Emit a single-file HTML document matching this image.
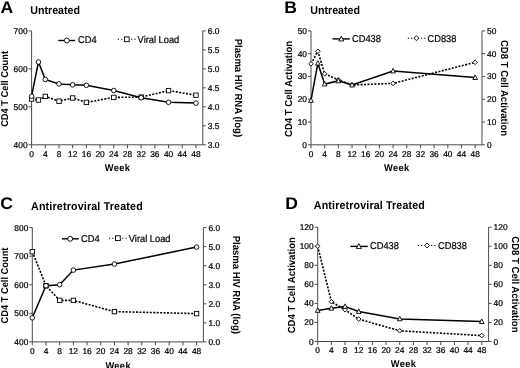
<!DOCTYPE html>
<html><head><meta charset="utf-8"><style>
html,body{margin:0;padding:0;background:#fff;}
svg{display:block;font-family:"Liberation Sans", sans-serif;filter:blur(0.35px);}
</style></head><body>
<svg width="520" height="368" viewBox="0 0 520 368" text-rendering="geometricPrecision">
<rect width="520" height="368" fill="#fff"/>
<path d="M31.6 30.9V144.8H202.8V30.9" fill="none" stroke="#4a4a4a" stroke-width="1"/>
<text transform="translate(31.6 156.8)" font-size="8.4" stroke="#000" stroke-width="0.22" text-anchor="middle" fill="#000">0</text>
<text transform="translate(45.3 156.8)" font-size="8.4" stroke="#000" stroke-width="0.22" text-anchor="middle" fill="#000">4</text>
<text transform="translate(58.99 156.8)" font-size="8.4" stroke="#000" stroke-width="0.22" text-anchor="middle" fill="#000">8</text>
<text transform="translate(72.69 156.8)" font-size="8.4" stroke="#000" stroke-width="0.22" text-anchor="middle" fill="#000">12</text>
<text transform="translate(86.38 156.8)" font-size="8.4" stroke="#000" stroke-width="0.22" text-anchor="middle" fill="#000">16</text>
<text transform="translate(100.08 156.8)" font-size="8.4" stroke="#000" stroke-width="0.22" text-anchor="middle" fill="#000">20</text>
<text transform="translate(113.78 156.8)" font-size="8.4" stroke="#000" stroke-width="0.22" text-anchor="middle" fill="#000">24</text>
<text transform="translate(127.47 156.8)" font-size="8.4" stroke="#000" stroke-width="0.22" text-anchor="middle" fill="#000">28</text>
<text transform="translate(141.17 156.8)" font-size="8.4" stroke="#000" stroke-width="0.22" text-anchor="middle" fill="#000">32</text>
<text transform="translate(154.86 156.8)" font-size="8.4" stroke="#000" stroke-width="0.22" text-anchor="middle" fill="#000">36</text>
<text transform="translate(168.56 156.8)" font-size="8.4" stroke="#000" stroke-width="0.22" text-anchor="middle" fill="#000">40</text>
<text transform="translate(182.26 156.8)" font-size="8.4" stroke="#000" stroke-width="0.22" text-anchor="middle" fill="#000">44</text>
<text transform="translate(195.95 156.8)" font-size="8.4" stroke="#000" stroke-width="0.22" text-anchor="middle" fill="#000">48</text>
<text transform="translate(27.6 147.8)" font-size="8.4" stroke="#000" stroke-width="0.22" text-anchor="end" fill="#000">400</text>
<text transform="translate(27.6 109.83)" font-size="8.4" stroke="#000" stroke-width="0.22" text-anchor="end" fill="#000">500</text>
<text transform="translate(27.6 71.87)" font-size="8.4" stroke="#000" stroke-width="0.22" text-anchor="end" fill="#000">600</text>
<text transform="translate(27.6 33.9)" font-size="8.4" stroke="#000" stroke-width="0.22" text-anchor="end" fill="#000">700</text>
<text transform="translate(207.8 147.8)" font-size="8.4" stroke="#000" stroke-width="0.22" fill="#000">3.0</text>
<text transform="translate(207.8 128.82)" font-size="8.4" stroke="#000" stroke-width="0.22" fill="#000">3.5</text>
<text transform="translate(207.8 109.83)" font-size="8.4" stroke="#000" stroke-width="0.22" fill="#000">4.0</text>
<text transform="translate(207.8 90.85)" font-size="8.4" stroke="#000" stroke-width="0.22" fill="#000">4.5</text>
<text transform="translate(207.8 71.87)" font-size="8.4" stroke="#000" stroke-width="0.22" fill="#000">5.0</text>
<text transform="translate(207.8 52.88)" font-size="8.4" stroke="#000" stroke-width="0.22" fill="#000">5.5</text>
<text transform="translate(207.8 33.9)" font-size="8.4" stroke="#000" stroke-width="0.22" fill="#000">6.0</text>
<path d="M31.6 144.8v3.5M45.3 144.8v3.5M58.99 144.8v3.5M72.69 144.8v3.5M86.38 144.8v3.5M100.08 144.8v3.5M113.78 144.8v3.5M127.47 144.8v3.5M141.17 144.8v3.5M154.86 144.8v3.5M168.56 144.8v3.5M182.26 144.8v3.5M195.95 144.8v3.5M28.6 144.8h3M28.6 106.83h3M28.6 68.87h3M28.6 30.9h3M202.8 144.8h3M202.8 125.82h3M202.8 106.83h3M202.8 87.85h3M202.8 68.87h3M202.8 49.88h3M202.8 30.9h3" stroke="#4a4a4a" stroke-width="1" fill="none"/>
<text transform="translate(8.2 88.9) rotate(-90) scale(1 1.07)" font-size="9.3" text-anchor="middle" font-weight="bold">CD4 T Cell Count</text>
<text transform="translate(234.6 87.9) rotate(90) scale(1 1.07)" font-size="9.55" text-anchor="middle" font-weight="bold">Plasma HIV RNA (log)</text>
<text transform="translate(117.5 170.75) scale(1 1.07)" font-size="9.3" letter-spacing="0.35" text-anchor="middle" font-weight="bold">Week</text>
<text transform="translate(0.5 13.3) scale(1 0.96)" font-size="17.6" font-weight="bold">A</text>
<text transform="translate(30.2 13.8) scale(1 1.07)" font-size="10.7" font-weight="bold">Untreated</text>
<path d="M31.6 99 L38.45 100 L45.3 96.4 L58.99 101.2 L72.69 98 L86.38 102.4 L113.78 97.4 L141.17 97.1 L168.56 90.6 L195.95 95.2" fill="none" stroke="#000" stroke-width="1.6" stroke-dasharray="2 1.45"/>
<path d="M31.6 96.2 L38.45 62 L45.3 79.5 L58.99 83.9 L72.69 84.8 L86.38 85.3 L113.78 90.5 L141.17 97.7 L168.56 102.3 L195.95 103.1" fill="none" stroke="#000" stroke-width="1.5"/>
<rect x="29.4" y="96.8" width="4.4" height="4.4" fill="#fff" stroke="#000" stroke-width="0.9"/>
<rect x="36.25" y="97.8" width="4.4" height="4.4" fill="#fff" stroke="#000" stroke-width="0.9"/>
<rect x="43.1" y="94.2" width="4.4" height="4.4" fill="#fff" stroke="#000" stroke-width="0.9"/>
<rect x="56.79" y="99" width="4.4" height="4.4" fill="#fff" stroke="#000" stroke-width="0.9"/>
<rect x="70.49" y="95.8" width="4.4" height="4.4" fill="#fff" stroke="#000" stroke-width="0.9"/>
<rect x="84.18" y="100.2" width="4.4" height="4.4" fill="#fff" stroke="#000" stroke-width="0.9"/>
<rect x="111.58" y="95.2" width="4.4" height="4.4" fill="#fff" stroke="#000" stroke-width="0.9"/>
<rect x="138.97" y="94.9" width="4.4" height="4.4" fill="#fff" stroke="#000" stroke-width="0.9"/>
<rect x="166.36" y="88.4" width="4.4" height="4.4" fill="#fff" stroke="#000" stroke-width="0.9"/>
<rect x="193.75" y="93" width="4.4" height="4.4" fill="#fff" stroke="#000" stroke-width="0.9"/>
<circle cx="31.6" cy="96.2" r="2.3" fill="#fff" stroke="#000" stroke-width="0.9"/>
<circle cx="38.45" cy="62" r="2.3" fill="#fff" stroke="#000" stroke-width="0.9"/>
<circle cx="45.3" cy="79.5" r="2.3" fill="#fff" stroke="#000" stroke-width="0.9"/>
<circle cx="58.99" cy="83.9" r="2.3" fill="#fff" stroke="#000" stroke-width="0.9"/>
<circle cx="72.69" cy="84.8" r="2.3" fill="#fff" stroke="#000" stroke-width="0.9"/>
<circle cx="86.38" cy="85.3" r="2.3" fill="#fff" stroke="#000" stroke-width="0.9"/>
<circle cx="113.78" cy="90.5" r="2.3" fill="#fff" stroke="#000" stroke-width="0.9"/>
<circle cx="141.17" cy="97.7" r="2.3" fill="#fff" stroke="#000" stroke-width="0.9"/>
<circle cx="168.56" cy="102.3" r="2.3" fill="#fff" stroke="#000" stroke-width="0.9"/>
<circle cx="195.95" cy="103.1" r="2.3" fill="#fff" stroke="#000" stroke-width="0.9"/>
<line x1="58.3" y1="40.5" x2="75.2" y2="40.5" stroke="#000" stroke-width="1.4"/>
<circle cx="66.8" cy="40.5" r="2.48" fill="#fff" stroke="#000" stroke-width="0.9"/>
<text transform="translate(78 43.3) scale(1 1.07)" font-size="9.3" stroke="#000" stroke-width="0.2" fill="#000">CD4</text>
<line x1="117.8" y1="39.3" x2="136" y2="39.3" stroke="#000" stroke-width="1.1" stroke-dasharray="1.2 2.1"/>
<rect x="124.42" y="36.92" width="4.75" height="4.75" fill="#fff" stroke="#000" stroke-width="0.9"/>
<text transform="translate(137.6 42.7) scale(1 1.07)" font-size="9.3" stroke="#000" stroke-width="0.2" fill="#000">Viral Load</text>
<path d="M311 30.9V144.8H482V30.9" fill="none" stroke="#4a4a4a" stroke-width="1"/>
<text transform="translate(311 156.8)" font-size="8.4" stroke="#000" stroke-width="0.22" text-anchor="middle" fill="#000">0</text>
<text transform="translate(324.68 156.8)" font-size="8.4" stroke="#000" stroke-width="0.22" text-anchor="middle" fill="#000">4</text>
<text transform="translate(338.36 156.8)" font-size="8.4" stroke="#000" stroke-width="0.22" text-anchor="middle" fill="#000">8</text>
<text transform="translate(352.04 156.8)" font-size="8.4" stroke="#000" stroke-width="0.22" text-anchor="middle" fill="#000">12</text>
<text transform="translate(365.72 156.8)" font-size="8.4" stroke="#000" stroke-width="0.22" text-anchor="middle" fill="#000">16</text>
<text transform="translate(379.4 156.8)" font-size="8.4" stroke="#000" stroke-width="0.22" text-anchor="middle" fill="#000">20</text>
<text transform="translate(393.08 156.8)" font-size="8.4" stroke="#000" stroke-width="0.22" text-anchor="middle" fill="#000">24</text>
<text transform="translate(406.76 156.8)" font-size="8.4" stroke="#000" stroke-width="0.22" text-anchor="middle" fill="#000">28</text>
<text transform="translate(420.44 156.8)" font-size="8.4" stroke="#000" stroke-width="0.22" text-anchor="middle" fill="#000">32</text>
<text transform="translate(434.12 156.8)" font-size="8.4" stroke="#000" stroke-width="0.22" text-anchor="middle" fill="#000">36</text>
<text transform="translate(447.8 156.8)" font-size="8.4" stroke="#000" stroke-width="0.22" text-anchor="middle" fill="#000">40</text>
<text transform="translate(461.48 156.8)" font-size="8.4" stroke="#000" stroke-width="0.22" text-anchor="middle" fill="#000">44</text>
<text transform="translate(475.16 156.8)" font-size="8.4" stroke="#000" stroke-width="0.22" text-anchor="middle" fill="#000">48</text>
<text transform="translate(307 147.8)" font-size="8.4" stroke="#000" stroke-width="0.22" text-anchor="end" fill="#000">0</text>
<text transform="translate(307 125.02)" font-size="8.4" stroke="#000" stroke-width="0.22" text-anchor="end" fill="#000">10</text>
<text transform="translate(307 102.24)" font-size="8.4" stroke="#000" stroke-width="0.22" text-anchor="end" fill="#000">20</text>
<text transform="translate(307 79.46)" font-size="8.4" stroke="#000" stroke-width="0.22" text-anchor="end" fill="#000">30</text>
<text transform="translate(307 56.68)" font-size="8.4" stroke="#000" stroke-width="0.22" text-anchor="end" fill="#000">40</text>
<text transform="translate(307 33.9)" font-size="8.4" stroke="#000" stroke-width="0.22" text-anchor="end" fill="#000">50</text>
<text transform="translate(487 147.8)" font-size="8.4" stroke="#000" stroke-width="0.22" fill="#000">0</text>
<text transform="translate(487 125.02)" font-size="8.4" stroke="#000" stroke-width="0.22" fill="#000">10</text>
<text transform="translate(487 102.24)" font-size="8.4" stroke="#000" stroke-width="0.22" fill="#000">20</text>
<text transform="translate(487 79.46)" font-size="8.4" stroke="#000" stroke-width="0.22" fill="#000">30</text>
<text transform="translate(487 56.68)" font-size="8.4" stroke="#000" stroke-width="0.22" fill="#000">40</text>
<text transform="translate(487 33.9)" font-size="8.4" stroke="#000" stroke-width="0.22" fill="#000">50</text>
<path d="M311 144.8v3.5M324.68 144.8v3.5M338.36 144.8v3.5M352.04 144.8v3.5M365.72 144.8v3.5M379.4 144.8v3.5M393.08 144.8v3.5M406.76 144.8v3.5M420.44 144.8v3.5M434.12 144.8v3.5M447.8 144.8v3.5M461.48 144.8v3.5M475.16 144.8v3.5M308 144.8h3M308 122.02h3M308 99.24h3M308 76.46h3M308 53.68h3M308 30.9h3M482 144.8h3M482 122.02h3M482 99.24h3M482 76.46h3M482 53.68h3M482 30.9h3" stroke="#4a4a4a" stroke-width="1" fill="none"/>
<text transform="translate(291.6 88.9) rotate(-90) scale(1 1.07)" font-size="9.55" text-anchor="middle" font-weight="bold">CD4 T Cell Activation</text>
<text transform="translate(500.8 88) rotate(90) scale(1 1.07)" font-size="9.55" text-anchor="middle" font-weight="bold">CD8 T Cell Activation</text>
<text transform="translate(396.8 170.75) scale(1 1.07)" font-size="9.3" letter-spacing="0.35" text-anchor="middle" font-weight="bold">Week</text>
<text transform="translate(284.2 13.3) scale(1 0.96)" font-size="17.6" font-weight="bold">B</text>
<text transform="translate(310.2 13.8) scale(1 1.07)" font-size="10.7" font-weight="bold">Untreated</text>
<path d="M311 63.8 L317.84 51.3 L324.68 73.8 L338.36 79.9 L352.04 85 L393.08 83.4 L475.16 62.3" fill="none" stroke="#000" stroke-width="1.6" stroke-dasharray="2 1.45"/>
<path d="M311 100.4 L317.84 63.2 L324.68 84.1 L338.36 80.9 L352.04 85 L393.08 71 L475.16 77.6" fill="none" stroke="#000" stroke-width="1.5"/>
<path d="M311 61.5L313.3 63.8L311 66.1L308.7 63.8Z" fill="#fff" stroke="#000" stroke-width="0.9"/>
<path d="M317.84 49L320.14 51.3L317.84 53.6L315.54 51.3Z" fill="#fff" stroke="#000" stroke-width="0.9"/>
<path d="M324.68 71.5L326.98 73.8L324.68 76.1L322.38 73.8Z" fill="#fff" stroke="#000" stroke-width="0.9"/>
<path d="M338.36 77.6L340.66 79.9L338.36 82.2L336.06 79.9Z" fill="#fff" stroke="#000" stroke-width="0.9"/>
<path d="M352.04 82.7L354.34 85L352.04 87.3L349.74 85Z" fill="#fff" stroke="#000" stroke-width="0.9"/>
<path d="M393.08 81.1L395.38 83.4L393.08 85.7L390.78 83.4Z" fill="#fff" stroke="#000" stroke-width="0.9"/>
<path d="M475.16 60L477.46 62.3L475.16 64.6L472.86 62.3Z" fill="#fff" stroke="#000" stroke-width="0.9"/>
<path d="M311 97.8L313.35 102.3L308.65 102.3Z" fill="#fff" stroke="#000" stroke-width="0.9"/>
<path d="M317.84 60.6L320.19 65.1L315.49 65.1Z" fill="#fff" stroke="#000" stroke-width="0.9"/>
<path d="M324.68 81.5L327.03 86L322.33 86Z" fill="#fff" stroke="#000" stroke-width="0.9"/>
<path d="M338.36 78.3L340.71 82.8L336.01 82.8Z" fill="#fff" stroke="#000" stroke-width="0.9"/>
<path d="M352.04 82.4L354.39 86.9L349.69 86.9Z" fill="#fff" stroke="#000" stroke-width="0.9"/>
<path d="M393.08 68.4L395.43 72.9L390.73 72.9Z" fill="#fff" stroke="#000" stroke-width="0.9"/>
<path d="M475.16 75L477.51 79.5L472.81 79.5Z" fill="#fff" stroke="#000" stroke-width="0.9"/>
<line x1="332.5" y1="38.9" x2="349.8" y2="38.9" stroke="#000" stroke-width="1.4"/>
<path d="M341.3 36.09L343.84 40.95L338.76 40.95Z" fill="#fff" stroke="#000" stroke-width="0.9"/>
<text transform="translate(352 42.2) scale(1 1.07)" font-size="9.3" stroke="#000" stroke-width="0.2" fill="#000">CD438</text>
<line x1="407.8" y1="38.2" x2="426" y2="38.2" stroke="#000" stroke-width="1.1" stroke-dasharray="1.2 2.1"/>
<path d="M416.4 35.72L418.88 38.2L416.4 40.68L413.92 38.2Z" fill="#fff" stroke="#000" stroke-width="0.9"/>
<text transform="translate(427.5 42.2) scale(1 1.07)" font-size="9.3" stroke="#000" stroke-width="0.2" fill="#000">CD838</text>
<path d="M32.3 227.6V341.9H203.4V227.6" fill="none" stroke="#4a4a4a" stroke-width="1"/>
<text transform="translate(32.3 354.3)" font-size="8.4" stroke="#000" stroke-width="0.22" text-anchor="middle" fill="#000">0</text>
<text transform="translate(45.99 354.3)" font-size="8.4" stroke="#000" stroke-width="0.22" text-anchor="middle" fill="#000">4</text>
<text transform="translate(59.68 354.3)" font-size="8.4" stroke="#000" stroke-width="0.22" text-anchor="middle" fill="#000">8</text>
<text transform="translate(73.36 354.3)" font-size="8.4" stroke="#000" stroke-width="0.22" text-anchor="middle" fill="#000">12</text>
<text transform="translate(87.05 354.3)" font-size="8.4" stroke="#000" stroke-width="0.22" text-anchor="middle" fill="#000">16</text>
<text transform="translate(100.74 354.3)" font-size="8.4" stroke="#000" stroke-width="0.22" text-anchor="middle" fill="#000">20</text>
<text transform="translate(114.43 354.3)" font-size="8.4" stroke="#000" stroke-width="0.22" text-anchor="middle" fill="#000">24</text>
<text transform="translate(128.12 354.3)" font-size="8.4" stroke="#000" stroke-width="0.22" text-anchor="middle" fill="#000">28</text>
<text transform="translate(141.8 354.3)" font-size="8.4" stroke="#000" stroke-width="0.22" text-anchor="middle" fill="#000">32</text>
<text transform="translate(155.49 354.3)" font-size="8.4" stroke="#000" stroke-width="0.22" text-anchor="middle" fill="#000">36</text>
<text transform="translate(169.18 354.3)" font-size="8.4" stroke="#000" stroke-width="0.22" text-anchor="middle" fill="#000">40</text>
<text transform="translate(182.87 354.3)" font-size="8.4" stroke="#000" stroke-width="0.22" text-anchor="middle" fill="#000">44</text>
<text transform="translate(196.56 354.3)" font-size="8.4" stroke="#000" stroke-width="0.22" text-anchor="middle" fill="#000">48</text>
<text transform="translate(28.3 344.9)" font-size="8.4" stroke="#000" stroke-width="0.22" text-anchor="end" fill="#000">400</text>
<text transform="translate(28.3 316.32)" font-size="8.4" stroke="#000" stroke-width="0.22" text-anchor="end" fill="#000">500</text>
<text transform="translate(28.3 287.75)" font-size="8.4" stroke="#000" stroke-width="0.22" text-anchor="end" fill="#000">600</text>
<text transform="translate(28.3 259.17)" font-size="8.4" stroke="#000" stroke-width="0.22" text-anchor="end" fill="#000">700</text>
<text transform="translate(28.3 230.6)" font-size="8.4" stroke="#000" stroke-width="0.22" text-anchor="end" fill="#000">800</text>
<text transform="translate(208.4 344.9)" font-size="8.4" stroke="#000" stroke-width="0.22" fill="#000">0.0</text>
<text transform="translate(208.4 325.85)" font-size="8.4" stroke="#000" stroke-width="0.22" fill="#000">1.0</text>
<text transform="translate(208.4 306.8)" font-size="8.4" stroke="#000" stroke-width="0.22" fill="#000">2.0</text>
<text transform="translate(208.4 287.75)" font-size="8.4" stroke="#000" stroke-width="0.22" fill="#000">3.0</text>
<text transform="translate(208.4 268.7)" font-size="8.4" stroke="#000" stroke-width="0.22" fill="#000">4.0</text>
<text transform="translate(208.4 249.65)" font-size="8.4" stroke="#000" stroke-width="0.22" fill="#000">5.0</text>
<text transform="translate(208.4 230.6)" font-size="8.4" stroke="#000" stroke-width="0.22" fill="#000">6.0</text>
<path d="M32.3 341.9v3.5M45.99 341.9v3.5M59.68 341.9v3.5M73.36 341.9v3.5M87.05 341.9v3.5M100.74 341.9v3.5M114.43 341.9v3.5M128.12 341.9v3.5M141.8 341.9v3.5M155.49 341.9v3.5M169.18 341.9v3.5M182.87 341.9v3.5M196.56 341.9v3.5M29.3 341.9h3M29.3 313.32h3M29.3 284.75h3M29.3 256.17h3M29.3 227.6h3M203.4 341.9h3M203.4 322.85h3M203.4 303.8h3M203.4 284.75h3M203.4 265.7h3M203.4 246.65h3M203.4 227.6h3" stroke="#4a4a4a" stroke-width="1" fill="none"/>
<text transform="translate(8.3 285.5) rotate(-90) scale(1 1.07)" font-size="9.3" text-anchor="middle" font-weight="bold">CD4 T Cell Count</text>
<text transform="translate(233.4 284.8) rotate(90) scale(1 1.07)" font-size="9.55" text-anchor="middle" font-weight="bold">Plasma HIV RNA (log)</text>
<text transform="translate(118.15 368.7) scale(1 1.07)" font-size="9.3" letter-spacing="0.35" text-anchor="middle" font-weight="bold">Week</text>
<text transform="translate(0.3 209.4) scale(1 0.96)" font-size="17.6" font-weight="bold">C</text>
<text transform="translate(31 210) scale(1 1.07)" font-size="10.7" letter-spacing="0.17" font-weight="bold">Antiretroviral Treated</text>
<path d="M32.3 251.7 L45.99 285.7 L59.68 300.4 L73.36 300.4 L114.43 311.6 L196.56 313.6" fill="none" stroke="#000" stroke-width="1.6" stroke-dasharray="2 1.45"/>
<path d="M32.3 317.8 L45.99 285.7 L59.68 284.7 L73.36 270.1 L114.43 264 L196.56 247.1" fill="none" stroke="#000" stroke-width="1.5"/>
<rect x="30.1" y="249.5" width="4.4" height="4.4" fill="#fff" stroke="#000" stroke-width="0.9"/>
<rect x="43.79" y="283.5" width="4.4" height="4.4" fill="#fff" stroke="#000" stroke-width="0.9"/>
<rect x="57.48" y="298.2" width="4.4" height="4.4" fill="#fff" stroke="#000" stroke-width="0.9"/>
<rect x="71.16" y="298.2" width="4.4" height="4.4" fill="#fff" stroke="#000" stroke-width="0.9"/>
<rect x="112.23" y="309.4" width="4.4" height="4.4" fill="#fff" stroke="#000" stroke-width="0.9"/>
<rect x="194.36" y="311.4" width="4.4" height="4.4" fill="#fff" stroke="#000" stroke-width="0.9"/>
<circle cx="32.3" cy="317.8" r="2.3" fill="#fff" stroke="#000" stroke-width="0.9"/>
<circle cx="45.99" cy="285.7" r="2.3" fill="#fff" stroke="#000" stroke-width="0.9"/>
<circle cx="59.68" cy="284.7" r="2.3" fill="#fff" stroke="#000" stroke-width="0.9"/>
<circle cx="73.36" cy="270.1" r="2.3" fill="#fff" stroke="#000" stroke-width="0.9"/>
<circle cx="114.43" cy="264" r="2.3" fill="#fff" stroke="#000" stroke-width="0.9"/>
<circle cx="196.56" cy="247.1" r="2.3" fill="#fff" stroke="#000" stroke-width="0.9"/>
<line x1="61.9" y1="238.8" x2="78.8" y2="238.8" stroke="#000" stroke-width="1.4"/>
<circle cx="70.2" cy="238.8" r="2.48" fill="#fff" stroke="#000" stroke-width="0.9"/>
<text transform="translate(81.1 241.7) scale(1 1.07)" font-size="9.3" stroke="#000" stroke-width="0.2" fill="#000">CD4</text>
<line x1="109" y1="238.2" x2="127" y2="238.2" stroke="#000" stroke-width="1.1" stroke-dasharray="1.2 2.1"/>
<rect x="115.52" y="235.82" width="4.75" height="4.75" fill="#fff" stroke="#000" stroke-width="0.9"/>
<text transform="translate(128.8 241.7) scale(1 1.07)" font-size="9.3" stroke="#000" stroke-width="0.2" fill="#000">Viral Load</text>
<path d="M317.7 227.2V341.5H488.6V227.2" fill="none" stroke="#4a4a4a" stroke-width="1"/>
<text transform="translate(317.7 352.9)" font-size="8.4" stroke="#000" stroke-width="0.22" text-anchor="middle" fill="#000">0</text>
<text transform="translate(331.37 352.9)" font-size="8.4" stroke="#000" stroke-width="0.22" text-anchor="middle" fill="#000">4</text>
<text transform="translate(345.04 352.9)" font-size="8.4" stroke="#000" stroke-width="0.22" text-anchor="middle" fill="#000">8</text>
<text transform="translate(358.72 352.9)" font-size="8.4" stroke="#000" stroke-width="0.22" text-anchor="middle" fill="#000">12</text>
<text transform="translate(372.39 352.9)" font-size="8.4" stroke="#000" stroke-width="0.22" text-anchor="middle" fill="#000">16</text>
<text transform="translate(386.06 352.9)" font-size="8.4" stroke="#000" stroke-width="0.22" text-anchor="middle" fill="#000">20</text>
<text transform="translate(399.73 352.9)" font-size="8.4" stroke="#000" stroke-width="0.22" text-anchor="middle" fill="#000">24</text>
<text transform="translate(413.4 352.9)" font-size="8.4" stroke="#000" stroke-width="0.22" text-anchor="middle" fill="#000">28</text>
<text transform="translate(427.08 352.9)" font-size="8.4" stroke="#000" stroke-width="0.22" text-anchor="middle" fill="#000">32</text>
<text transform="translate(440.75 352.9)" font-size="8.4" stroke="#000" stroke-width="0.22" text-anchor="middle" fill="#000">36</text>
<text transform="translate(454.42 352.9)" font-size="8.4" stroke="#000" stroke-width="0.22" text-anchor="middle" fill="#000">40</text>
<text transform="translate(468.09 352.9)" font-size="8.4" stroke="#000" stroke-width="0.22" text-anchor="middle" fill="#000">44</text>
<text transform="translate(481.76 352.9)" font-size="8.4" stroke="#000" stroke-width="0.22" text-anchor="middle" fill="#000">48</text>
<text transform="translate(313.7 344.5)" font-size="8.4" stroke="#000" stroke-width="0.22" text-anchor="end" fill="#000">0</text>
<text transform="translate(313.7 325.45)" font-size="8.4" stroke="#000" stroke-width="0.22" text-anchor="end" fill="#000">20</text>
<text transform="translate(313.7 306.4)" font-size="8.4" stroke="#000" stroke-width="0.22" text-anchor="end" fill="#000">40</text>
<text transform="translate(313.7 287.35)" font-size="8.4" stroke="#000" stroke-width="0.22" text-anchor="end" fill="#000">60</text>
<text transform="translate(313.7 268.3)" font-size="8.4" stroke="#000" stroke-width="0.22" text-anchor="end" fill="#000">80</text>
<text transform="translate(313.7 249.25)" font-size="8.4" stroke="#000" stroke-width="0.22" text-anchor="end" fill="#000">100</text>
<text transform="translate(313.7 230.2)" font-size="8.4" stroke="#000" stroke-width="0.22" text-anchor="end" fill="#000">120</text>
<text transform="translate(493.6 344.5)" font-size="8.4" stroke="#000" stroke-width="0.22" fill="#000">0</text>
<text transform="translate(493.6 325.45)" font-size="8.4" stroke="#000" stroke-width="0.22" fill="#000">20</text>
<text transform="translate(493.6 306.4)" font-size="8.4" stroke="#000" stroke-width="0.22" fill="#000">40</text>
<text transform="translate(493.6 287.35)" font-size="8.4" stroke="#000" stroke-width="0.22" fill="#000">60</text>
<text transform="translate(493.6 268.3)" font-size="8.4" stroke="#000" stroke-width="0.22" fill="#000">80</text>
<text transform="translate(493.6 249.25)" font-size="8.4" stroke="#000" stroke-width="0.22" fill="#000">100</text>
<text transform="translate(493.6 230.2)" font-size="8.4" stroke="#000" stroke-width="0.22" fill="#000">120</text>
<path d="M317.7 341.5v3.5M331.37 341.5v3.5M345.04 341.5v3.5M358.72 341.5v3.5M372.39 341.5v3.5M386.06 341.5v3.5M399.73 341.5v3.5M413.4 341.5v3.5M427.08 341.5v3.5M440.75 341.5v3.5M454.42 341.5v3.5M468.09 341.5v3.5M481.76 341.5v3.5M314.7 341.5h3M314.7 322.45h3M314.7 303.4h3M314.7 284.35h3M314.7 265.3h3M314.7 246.25h3M314.7 227.2h3M488.6 341.5h3M488.6 322.45h3M488.6 303.4h3M488.6 284.35h3M488.6 265.3h3M488.6 246.25h3M488.6 227.2h3" stroke="#4a4a4a" stroke-width="1" fill="none"/>
<text transform="translate(295.3 285.2) rotate(-90) scale(1 1.07)" font-size="9.55" text-anchor="middle" font-weight="bold">CD4 T Cell Activation</text>
<text transform="translate(512 284.4) rotate(90) scale(1 1.07)" font-size="9.55" text-anchor="middle" font-weight="bold">CD8 T Cell Activation</text>
<text transform="translate(403.45 367.4) scale(1 1.07)" font-size="9.3" letter-spacing="0.35" text-anchor="middle" font-weight="bold">Week</text>
<text transform="translate(285.2 208.9) scale(1 0.96)" font-size="17.6" font-weight="bold">D</text>
<text transform="translate(313.8 209.4) scale(1 1.07)" font-size="10.7" letter-spacing="0.14" font-weight="bold">Antiretroviral Treated</text>
<path d="M317.7 246.2 L331.37 301.7 L345.04 309.8 L358.72 319.1 L399.73 330.8 L481.76 335.6" fill="none" stroke="#000" stroke-width="1.6" stroke-dasharray="2 1.45"/>
<path d="M317.7 310.4 L331.37 308.3 L345.04 306.5 L358.72 311.5 L399.73 318.9 L481.76 321.6" fill="none" stroke="#000" stroke-width="1.5"/>
<path d="M317.7 243.9L320 246.2L317.7 248.5L315.4 246.2Z" fill="#fff" stroke="#000" stroke-width="0.9"/>
<path d="M331.37 299.4L333.67 301.7L331.37 304L329.07 301.7Z" fill="#fff" stroke="#000" stroke-width="0.9"/>
<path d="M345.04 307.5L347.34 309.8L345.04 312.1L342.74 309.8Z" fill="#fff" stroke="#000" stroke-width="0.9"/>
<path d="M358.72 316.8L361.02 319.1L358.72 321.4L356.42 319.1Z" fill="#fff" stroke="#000" stroke-width="0.9"/>
<path d="M399.73 328.5L402.03 330.8L399.73 333.1L397.43 330.8Z" fill="#fff" stroke="#000" stroke-width="0.9"/>
<path d="M481.76 333.3L484.06 335.6L481.76 337.9L479.46 335.6Z" fill="#fff" stroke="#000" stroke-width="0.9"/>
<path d="M317.7 307.8L320.05 312.3L315.35 312.3Z" fill="#fff" stroke="#000" stroke-width="0.9"/>
<path d="M331.37 305.7L333.72 310.2L329.02 310.2Z" fill="#fff" stroke="#000" stroke-width="0.9"/>
<path d="M345.04 303.9L347.39 308.4L342.69 308.4Z" fill="#fff" stroke="#000" stroke-width="0.9"/>
<path d="M358.72 308.9L361.07 313.4L356.37 313.4Z" fill="#fff" stroke="#000" stroke-width="0.9"/>
<path d="M399.73 316.3L402.08 320.8L397.38 320.8Z" fill="#fff" stroke="#000" stroke-width="0.9"/>
<path d="M481.76 319L484.11 323.5L479.41 323.5Z" fill="#fff" stroke="#000" stroke-width="0.9"/>
<line x1="350.3" y1="246.4" x2="367.8" y2="246.4" stroke="#000" stroke-width="1.4"/>
<path d="M358.9 243.59L361.44 248.45L356.36 248.45Z" fill="#fff" stroke="#000" stroke-width="0.9"/>
<text transform="translate(370 249.3) scale(1 1.07)" font-size="9.3" stroke="#000" stroke-width="0.2" fill="#000">CD438</text>
<line x1="417.8" y1="245.5" x2="436" y2="245.5" stroke="#000" stroke-width="1.1" stroke-dasharray="1.2 2.1"/>
<path d="M427.1 243.02L429.58 245.5L427.1 247.98L424.62 245.5Z" fill="#fff" stroke="#000" stroke-width="0.9"/>
<text transform="translate(438 249.3) scale(1 1.07)" font-size="9.3" stroke="#000" stroke-width="0.2" fill="#000">CD838</text>
</svg>
</body></html>
